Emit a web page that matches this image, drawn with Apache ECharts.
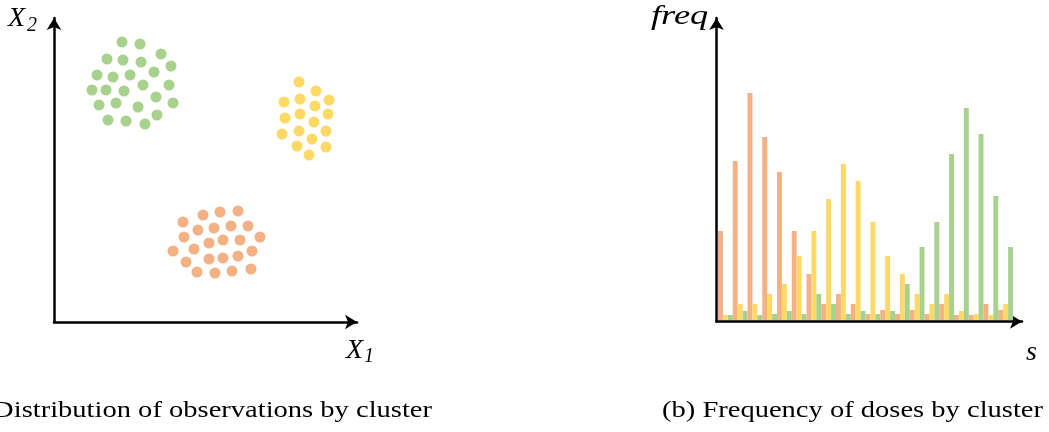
<!DOCTYPE html>
<html>
<head>
<meta charset="utf-8">
<style>
  html, body { margin: 0; padding: 0; background: #fff; }
  #chart { width: 1049px; height: 432px; }
</style>
<script src="https://cdn.jsdelivr.net/npm/echarts@6.0.0/dist/echarts.min.js"></script>
</head>
<body>
<div id="chart"></div>
<script>
// Cluster observations in the (X1, X2) plane
const clusterGreen = [
  [68, 280], [86, 278], [53, 263], [69, 262], [107, 268], [87, 260], [117, 256],
  [43, 247], [59, 245], [76, 247], [100, 250], [38, 232], [52, 232], [70, 231],
  [89, 237], [115, 237], [45, 217], [62, 219], [84, 215], [102, 225], [119, 219],
  [54, 202], [72, 201], [91, 198], [103, 207]
];
const clusterYellow = [
  [245, 240], [262, 231], [230, 220], [246, 223], [275, 222], [261, 216],
  [231, 204], [246, 208], [274, 208], [260, 200], [228, 188], [245, 191],
  [272, 191], [258, 183], [243, 176], [272, 175], [255, 167]
];
const clusterOrange = [
  [149, 107], [166, 110], [184, 111], [129, 100], [144, 92], [160, 94], [177, 96],
  [194, 96], [130, 85], [206, 85], [186, 82], [169, 82], [155, 79], [119, 71],
  [140, 73], [198, 71], [184, 66], [169, 64], [155, 63], [132, 60], [143, 50],
  [161, 49], [178, 51], [197, 53]
];

// Dose bins s and frequency per cluster
const doseBins = ['1','2','3','4','5','6','7','8','9','10','11','12','13','14','15','16','17','18','19','20'];
const freqOrange = [89, 159, 227, 183, 148, 89, 46, 16, 26, 16, 6, 10, 6, 10, 6, 16, 5, 5, 16, 10];
const freqYellow = [5, 16, 16, 26, 36, 64, 89, 121, 156, 139, 98, 64, 46, 26, 16, 26, 9, 6, 5, 16];
const freqGreen  = [5, 9, 5, 6, 9, 6, 26, 16, 6, 9, 6, 9, 36, 73, 98, 166, 212, 186, 124, 73];

const ORANGE = '#f4b183';
const YELLOW = '#ffd966';
const GREEN = '#a9d18e';

const SERIF = '"Liberation Serif", "Times New Roman", serif';
const CAPTION_FONT = '24px ' + SERIF;

// Horizontal stretch so the captions take the width of a wide roman face
const measureCtx = document.createElement('canvas').getContext('2d');
measureCtx.font = CAPTION_FONT;
const captionB = '(b) Frequency of doses by cluster';
const captionA = '(a) Distribution of observations by cluster';
const captionScale = 381 / measureCtx.measureText(captionB).width;

function arrowAxis(gridIndex, max) {
  return {
    type: 'value', gridIndex: gridIndex, min: 0, max: max,
    axisLine: { show: true, onZero: false, symbol: ['none', 'arrow'], symbolSize: [11, 12],
                lineStyle: { color: '#000', width: 2.5 } },
    axisTick: { show: false }, axisLabel: { show: false }, splitLine: { show: false }
  };
}
function hiddenAxis(extra) {
  return Object.assign({
    axisLine: { show: false }, axisTick: { show: false },
    axisLabel: { show: false }, splitLine: { show: false }
  }, extra);
}

function italic(text, x, y, size, stretch) {
  return {
    type: 'text', x: x, y: y, scaleX: stretch || 1,
    style: { text: text, font: 'italic ' + size + 'px ' + SERIF, fill: '#000',
             align: 'left', verticalAlign: 'top' }
  };
}

const chart = echarts.init(document.getElementById('chart'), null, { renderer: 'canvas' });

chart.setOption({
  animation: false,
  backgroundColor: '#fff',
  grid: [
    // scatter panel
    { left: 54, top: 18, width: 303, height: 304 },
    // axis frame of the histogram panel
    { left: 716.5, top: 18, width: 305.5, height: 303.5 },
    // histogram bars
    { left: 718, top: 20, width: 295, height: 300 }
  ],
  xAxis: [
    arrowAxis(0, 303),
    arrowAxis(1, 1),
    hiddenAxis({ type: 'category', gridIndex: 2, data: doseBins, boundaryGap: true })
  ],
  yAxis: [
    arrowAxis(0, 304),
    arrowAxis(1, 1),
    hiddenAxis({ type: 'value', gridIndex: 2, min: 0, max: 300 })
  ],
  series: [
    { type: 'scatter', xAxisIndex: 0, yAxisIndex: 0, data: clusterGreen,
      symbolSize: 11, itemStyle: { color: GREEN, opacity: 1 } },
    { type: 'scatter', xAxisIndex: 0, yAxisIndex: 0, data: clusterYellow,
      symbolSize: 11, itemStyle: { color: YELLOW, opacity: 1 } },
    { type: 'scatter', xAxisIndex: 0, yAxisIndex: 0, data: clusterOrange,
      symbolSize: 11, itemStyle: { color: ORANGE, opacity: 1 } },
    { type: 'bar', xAxisIndex: 2, yAxisIndex: 2, data: freqOrange,
      barGap: '0%', barCategoryGap: '0%', itemStyle: { color: ORANGE } },
    { type: 'bar', xAxisIndex: 2, yAxisIndex: 2, data: freqYellow,
      barGap: '0%', barCategoryGap: '0%', itemStyle: { color: YELLOW } },
    { type: 'bar', xAxisIndex: 2, yAxisIndex: 2, data: freqGreen,
      barGap: '0%', barCategoryGap: '0%', itemStyle: { color: GREEN } }
  ],
  graphic: [
    italic('X', 8, 5, 28),
    italic('2', 27, 16, 20),
    italic('X', 346, 337, 28),
    italic('1', 364, 347, 20),
    italic('freq', 651, 3, 28, 1.3),
    italic('s', 1026, 339, 28),
    {
      type: 'text', x: 432, y: 399, scaleX: captionScale,
      style: { text: captionA, font: CAPTION_FONT, fill: '#000',
               align: 'right', verticalAlign: 'top' }
    },
    {
      type: 'text', x: 662, y: 399, scaleX: captionScale,
      style: { text: captionB, font: CAPTION_FONT, fill: '#000',
               align: 'left', verticalAlign: 'top' }
    }
  ]
});
</script>
</body>
</html>
